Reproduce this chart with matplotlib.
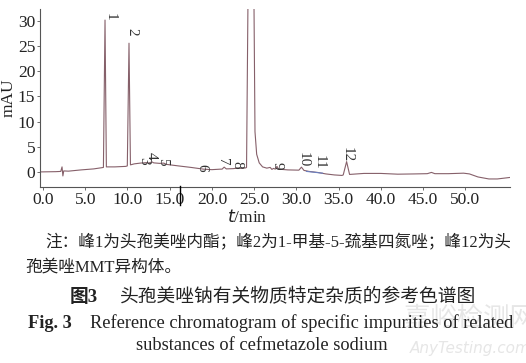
import matplotlib
matplotlib.use("Agg")
import matplotlib.pyplot as plt
from matplotlib.lines import Line2D

plt.rcParams['font.family'] = ['Liberation Serif', 'Noto Sans CJK SC']

# chromatogram trace (time in min, signal in mAU)
time = [-0.36, 1.5, 2.1, 2.25, 2.35, 2.45, 3.0, 4.5, 6.0, 7.0,
        7.15, 7.34, 7.5, 8.5, 9.8, 9.98, 10.18, 10.35, 10.8, 11.5,
        12.3, 12.5, 12.9, 13.1, 13.8, 14.3, 14.6, 16.0, 17.5, 19.0,
        20.0, 21.0, 21.2, 21.45, 21.7, 22.5, 23.1, 23.4, 24.0, 24.1,
        24.3, 24.6, 24.95, 25.1, 25.3, 25.6, 26.0, 26.5, 26.9, 27.1,
        27.3, 27.5, 27.7, 27.9, 29.0, 30.3, 30.6, 30.9, 31.5, 32.5,
        33.5, 34.5, 35.4, 35.55, 35.95, 36.3, 38.0, 40.0, 42.0, 44.0,
        45.5, 46.0, 46.4, 48.0, 49.8, 50.5, 51.5, 52.8, 53.8, 55.3]
signal = [0.0, 0.05, 0.1, 1.0, -0.8, 0.2, 0.15, 0.4, 0.6, 0.85,
          0.9, 30.2, 1.0, 1.0, 1.1, 1.2, 25.6, 1.4, 1.6, 1.75,
          1.85, 1.75, 2.0, 1.8, 1.7, 1.75, 1.5, 1.2, 0.9, 0.55,
          0.45, 0.55, 0.55, 0.95, 0.6, 0.65, 0.75, 0.7, 0.8, 0.9,
          40.0, 400.0, 40.0, 8.0, 3.5, 1.8, 1.0, 0.75, 0.9, 0.5,
          0.7, 0.55, 1.1, 0.55, 0.4, 0.35, 0.95, 0.3, 0.1, -0.1,
          -0.4, -0.6, -0.7, -0.6, 2.05, -0.5, -0.3, -0.3, -0.45, -0.4,
          -0.35, -0.1, -0.35, -0.35, -0.25, -0.4, -1.0, -1.4, -1.4, -1.1]

# peak numbers and where their labels sit
peak_labels = ['1', '2', '3', '4', '5', '6', '7', '8', '9', '10', '11', '12']
label_t = [7.9, 10.5, 11.9, 12.8, 14.1, 18.8, 21.2, 23.0, 27.7, 30.8, 32.7, 36.0]
label_y = [30.0, 27.2, 1.4, 2.4, 1.2, 0.0, 1.2, 0.6, 0.4, 1.0, 0.4, 2.0]

# integration mark under peak 11
mark_t = [31.2, 33.1]
mark_y = [0.1, -0.25]

xticks = [0, 5, 10, 15, 20, 25, 30, 35, 40, 45, 50]
yticks = [0, 5, 10, 15, 20, 25, 30]

fig = plt.figure(figsize=(5.26, 3.63), dpi=100)
ax = fig.add_axes([40/526, 1-187/363, 470/526, 178/363])

ax.plot(time, signal, color='#86606a', lw=0.8)
ax.plot(mark_t, mark_y, color='#6a7fc0', lw=0.8)

for lab, t, y in zip(peak_labels, label_t, label_y):
    ax.text(t, y, lab, rotation=-90, ha='center', va='bottom', fontsize=11, color='#333333')

ax.set_xlim(-0.36, 55.3)
ax.set_ylim(-3, 32.4)
ax.set_xticks(xticks)
ax.set_xticklabels([f"{v:.1f}" for v in xticks])
ax.set_yticks(yticks)
for s in ['top', 'right']:
    ax.spines[s].set_visible(False)
for s in ['left', 'bottom']:
    ax.spines[s].set_color('#555555')
    ax.spines[s].set_linewidth(0.8)
ax.tick_params(length=2, width=0.6, color='#555555', labelsize=12.5, pad=1.5, labelcolor='#222222')

ax.set_ylabel('mAU', fontsize=12.5, labelpad=1, color='#222222')
fig.text(247/526, 1-218/363, r'$\it{t}$/min', ha='center', va='center', fontsize=12.5, color='#222222')

# stray cut line in the scan
fig.add_artist(Line2D([180/526, 180/526], [1-186/363, 1-205/363], color='black', lw=1))

fig.text(45/526, 1-243/363, '注：峰1为头孢美唑内酯；峰2为1-甲基-5-巯基四氮唑；峰12为头',
         ha='left', va='center', fontsize=12, color='#222222')
fig.text(25/526, 1-268/363, '孢美唑MMT异构体。', ha='left', va='center', fontsize=12, color='#222222')
fig.text(70/526, 1-297/363, '图3', ha='left', va='center', fontsize=13.5, fontweight='bold', color='#222222')
fig.text(120/526, 1-297/363, '头孢美唑钠有关物质特定杂质的参考色谱图', ha='left', va='center',
         fontsize=13.5, color='#222222')
fig.text(28/526, 1-323/363, 'Fig. 3', ha='left', va='center', fontsize=13.2, fontweight='bold', color='#222222')
fig.text(90/526, 1-323/363, 'Reference chromatogram of specific impurities of related',
         ha='left', va='center', fontsize=13.2, color='#222222')
fig.text(262/526, 1-346/363, 'substances of cefmetazole sodium', ha='center', va='center',
         fontsize=13.2, color='#222222')

# watermark
fig.text(470/526, 1-318/363, '嘉峪检测网', ha='center', va='center', fontsize=19, color='#e6e6e6', zorder=0)
fig.text(470/526, 1-348/363, 'AnyTesting.com', ha='center', va='center', fontsize=11,
         style='italic', color='#e6e6e6', zorder=0, family='DejaVu Sans')

fig.savefig('out.png', dpi=100)
